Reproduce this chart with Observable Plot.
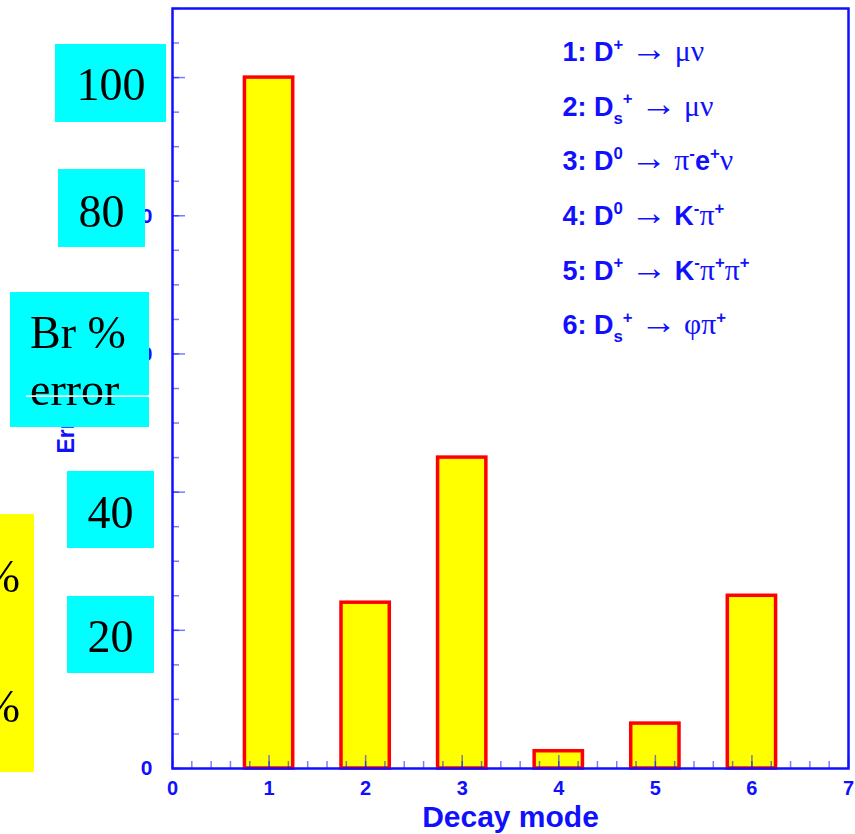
<!DOCTYPE html>
<html>
<head>
<meta charset="utf-8">
<script src="https://cdn.jsdelivr.net/npm/d3@7"></script>
<script src="https://cdn.jsdelivr.net/npm/@observablehq/plot@0.6"></script>
<style>
  html, body { margin: 0; padding: 0; background: white; }
  #wrap { position: relative; width: 855px; height: 834px; overflow: hidden; }
  #wrap svg { position: absolute; left: 0; top: 0; }
</style>
</head>
<body>
<div id="wrap"></div>
<script>
// ---- data ----
const modes = [1, 2, 3, 4, 5, 6];
const errors = [100, 24, 45, 2.5, 6.5, 25];
const legendLabels = [
  "1: D^+ → μν",
  "2: D_s^+ → μν",
  "3: D^0 → π^-e^+ν",
  "4: D^0 → K^-π^+",
  "5: D^+ → K^-π^+π^+",
  "6: D_s^+ → φπ^+"
];
const yMajorTicks = [0, 20, 40, 60, 80, 100];
const xMajorTicks = [0, 1, 2, 3, 4, 5, 6, 7];
const xLabel = "Decay mode";
const yLabel = "Error (%)";
// overlay annotations (pasted boxes over the axis)
const cyanTexts = [["100"], ["80"], ["Br %", "error"], ["40"], ["20"]];
const yellowTexts = ["%", "%"];

// ---- styling / layout ----
const blue = "#1010ff";
const binHalf = 0.25;
const cyanLayout = [
  {x: 55, y: 44, w: 111, h: 78, tx: 111, ty: [100], anchor: "middle"},
  {x: 58, y: 169, w: 87, h: 78, tx: 101.5, ty: [227], anchor: "middle"},
  {x: 10, y: 292, w: 139, h: 135, tx: 30, ty: [348, 405], anchor: "start"},
  {x: 67, y: 471, w: 87, h: 77, tx: 110.5, ty: [528], anchor: "middle"},
  {x: 67, y: 596, w: 87, h: 77, tx: 110.5, ty: [652], anchor: "middle"}
];
const yellowLayout = {x: 0, y: 514, w: 34, h: 258, tx: 20, ty: [592, 722]};

const bars = modes.map((m, i) => ({mode: m, err: errors[i]}));
const yMinor = d3.range(0, 110.01, 5);
const xMinor = d3.range(0, 7.001, 0.2);

const plot = Plot.plot({
  width: 855,
  height: 834,
  marginLeft: 172,
  marginRight: 7,
  marginTop: 8,
  marginBottom: 66,
  x: {domain: [0, 7]},
  y: {domain: [0, 110]},
  style: {background: "white", fontFamily: "'Liberation Sans', Arial, sans-serif", overflow: "visible"},
  marks: [
    Plot.rect(bars, {
      x1: d => d.mode - binHalf, x2: d => d.mode + binHalf,
      y1: () => 0, y2: d => d.err,
      fill: "#ffff00", stroke: "#ff0000", strokeWidth: 3.5
    }),
    Plot.axisY(yMinor, {tickSize: -7, fill: "none", stroke: blue, strokeOpacity: 0.55, strokeWidth: 1.5, label: null}),
    Plot.axisY(yMajorTicks, {tickSize: -13, fill: "none", stroke: blue, strokeOpacity: 0.55, strokeWidth: 1.5, label: null}),
    Plot.axisX(xMinor, {tickSize: -7, fill: "none", stroke: blue, strokeOpacity: 0.55, strokeWidth: 1.5, label: null}),
    Plot.axisX(xMajorTicks, {tickSize: -13, fill: "none", stroke: blue, strokeOpacity: 0.55, strokeWidth: 1.5, label: null}),
    Plot.frame({stroke: blue, strokeWidth: 2.5}),
    Plot.axisY(yMajorTicks, {tickSize: 0, tickPadding: 20, fontSize: 21, fontWeight: "bold", fill: blue, stroke: "none", label: null}),
    Plot.axisX(xMajorTicks, {tickSize: 0, tickPadding: 12, fontSize: 20, fontWeight: "bold", fill: blue, stroke: "none", label: null}),
    Plot.text([xLabel], {text: d => d, frameAnchor: "bottom", dy: 49, lineAnchor: "middle", fontSize: 30, fontWeight: "bold", fill: blue}),
    Plot.text([yLabel], {text: d => d, frameAnchor: "bottom-left", dx: -99, dy: -315, rotate: -90, textAnchor: "start", fontSize: 23, fontWeight: "bold", fill: blue}),
    ...legendLabels.map((lab, i) => Plot.text([lab], {
      text: d => d, frameAnchor: "top-left", dx: 390, dy: 44 + i * 54.6, lineAnchor: "middle",
      textAnchor: "start", fontSize: 27, fontWeight: "bold", fill: blue, className: "legend"
    }))
  ]
});
document.getElementById("wrap").appendChild(plot);

// rich formatting for legend text (superscripts, subscripts, greek in serif)
const NS = "http://www.w3.org/2000/svg";
const serifChars = "→μνπφ";
plot.querySelectorAll("g.legend text").forEach(t => {
  const s = t.textContent;
  const fs = 27;
  t.textContent = "";
  t.setAttribute("style", "white-space: pre");
  let shift = 0;
  for (let i = 0; i < s.length; i++) {
    let c = s[i], mode = "";
    if (c === "^" || c === "_") { mode = c; c = s[++i]; }
    const target = mode === "^" ? -0.42 * fs : mode === "_" ? 0.3 * fs : 0;
    const ts = document.createElementNS(NS, "tspan");
    ts.setAttribute("dy", target - shift);
    shift = target;
    if (mode) ts.setAttribute("font-size", fs * 0.62);
    if (serifChars.includes(c)) {
      ts.setAttribute("font-family", "'Liberation Serif', 'DejaVu Serif', serif");
      ts.setAttribute("font-weight", "normal");
      ts.setAttribute("font-size", fs * (mode ? 0.62 : c === "→" ? 1.35 : 1.1));
    }
    ts.textContent = c;
    t.appendChild(ts);
  }
});

// overlay boxes pasted on top of the axis
const ov = d3.select("#wrap").append("svg").attr("width", 855).attr("height", 834);
const mask = ov.append("defs").append("mask").attr("id", "gapmask")
  .attr("maskUnits", "userSpaceOnUse").attr("x", 0).attr("y", 0).attr("width", 855).attr("height", 834);
mask.append("rect").attr("width", 855).attr("height", 834).attr("fill", "white");
mask.append("rect").attr("x", 26).attr("y", 395.3).attr("width", 123).attr("height", 1.6).attr("fill", "black");
const g = ov.append("g").attr("mask", "url(#gapmask)")
  .attr("font-family", "'Liberation Serif', 'Times New Roman', serif").attr("font-size", 46).attr("fill", "black");
cyanTexts.forEach((lines, i) => {
  const L = cyanLayout[i];
  g.append("rect").attr("x", L.x).attr("y", L.y).attr("width", L.w).attr("height", L.h).attr("fill", "#00ffff");
  lines.forEach((line, j) => {
    g.append("text").attr("x", L.tx).attr("y", L.ty[j]).attr("text-anchor", L.anchor).text(line);
  });
});
g.append("rect").attr("x", yellowLayout.x).attr("y", yellowLayout.y)
  .attr("width", yellowLayout.w).attr("height", yellowLayout.h).attr("fill", "#ffff00");
yellowTexts.forEach((txt, j) => {
  g.append("text").attr("x", yellowLayout.tx).attr("y", yellowLayout.ty[j]).attr("text-anchor", "end").text(txt);
});
</script>
</body>
</html>
